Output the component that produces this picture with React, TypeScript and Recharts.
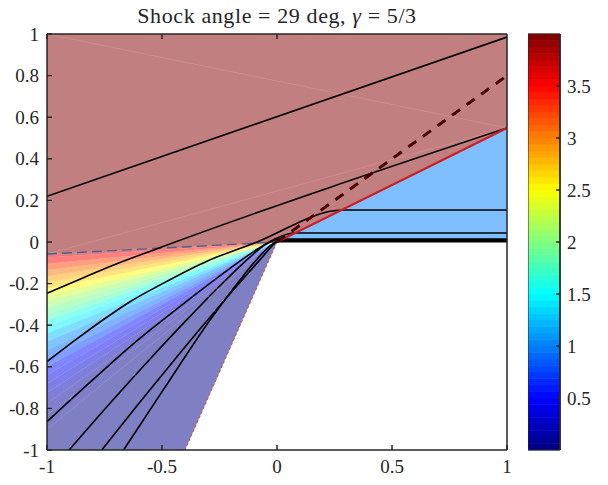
import React from "react";
import { ComposedChart, Area, Bar, Line, XAxis, YAxis, ReferenceArea } from "recharts";

const xTicks = [-1, -0.5, 0, 0.5, 1];
const yTicks = [-1, -0.8, -0.6, -0.4, -0.2, 0, 0.2, 0.4, 0.6, 0.8, 1];
const cbTicks = [0.5, 1, 1.5, 2, 2.5, 3, 3.5];

// rays of the expansion fan, given by where they cross x = -1
const fanEdgeY = [
  -0.058, -0.075, -0.105, -0.135, -0.165, -0.195, -0.225, -0.255, -0.285,
  -0.315, -0.345, -0.375, -0.405, -0.44, -0.48, -0.52, -0.56, -0.6, -0.64,
  -0.68, -0.725, -0.775, -0.83, -0.9, -2.5,
];
// colour level of each wedge between two neighbouring rays
const fanLevel = [
  3.75, 3.5, 3.25, 3.05, 2.85, 2.7, 2.5, 2.3, 2.1, 1.95, 1.8, 1.6, 1.45, 1.25,
  1.05, 0.9, 0.75, 0.55, 0.45, 0.35, 0.22, 0.12, 0.06, 0.03,
];

const upperLevel = 3.98;
const postShockLevel = 1.0;
const shockEndY = 0.548;
const fanHeadY = -0.058;

// streamlines
const stream1 = [[-1, 0.22], [1, 0.985]];
const stream2 = [[-1, -0.247], [-0.857, -0.179], [-0.683, -0.099], [-0.516, -0.03], [1, 0.548]];
const stream3 = [
  [-1, -0.575], [-0.857, -0.455], [-0.726, -0.351], [-0.639, -0.287], [-0.509, -0.207],
  [-0.3, -0.09], [-0.1, -0.006], [0.287, 0.154], [1, 0.154],
];
const stream4 = [
  [-1, -0.864], [-0.857, -0.718], [-0.726, -0.588], [-0.639, -0.503], [-0.5, -0.378],
  [-0.35, -0.248], [-0.2, -0.123], [-0.1, -0.045], [-0.04, -0.003], [0.078, 0.043], [1, 0.043],
];
const stream5 = [
  [-0.904, -1], [-0.726, -0.775], [-0.55, -0.56], [-0.4, -0.383], [-0.25, -0.213],
  [-0.12, -0.075], [-0.05, -0.012], [0.01, 0.014], [1, 0.014],
];
const stream6 = [
  [-0.762, -1], [-0.6, -0.775], [-0.45, -0.572], [-0.3, -0.373], [-0.15, -0.18],
  [-0.06, -0.068], [-0.015, -0.012], [0.01, 0.009], [1, 0.009],
];
const stream7 = [
  [-0.667, -1], [-0.494, -0.71], [-0.291, -0.375], [-0.146, -0.162], [-0.06, -0.05],
  [-0.015, -0.006], [0.005, 0.004], [1, 0.004],
];
const wall = [[0, 0], [1, 0]];

const fanHead = [[-1, fanHeadY], [0, 0]];
const fanTail = [[0, 0], [-0.4, -1]];
const shock = [[0, 0], [1, shockEndY]];
const shockGuide = [[0, 0], [1, 0.8]];
const seamA = [[-1, 1], [1, shockEndY]];
const seamB = [[-1, fanHeadY], [1, shockEndY]];

// colorbar: 64 colour steps between 0 and 4
const cbSteps = 64;
const cbMax = 4;

function jet(v: number) {
  const t = Math.min(1, Math.max(0, v / 4));
  const c = (d: number) =>
    Math.round(255 * Math.min(1, Math.max(0, 1.5 - Math.abs(4 * t - d))));
  return `rgb(${c(3)},${c(2)},${c(1)})`;
}

const pts = (a: number[][]) => a.map(([x, y]) => ({ x, y }));

const rows: any[] = [
  { x: -1, upper: [fanHeadY, 1] },
  { x: 0, upper: [0, 1], post: [0, 0] },
  { x: 1, upper: [shockEndY, 1], post: [0, shockEndY] },
];
fanLevel.forEach((_, i) => {
  rows[0][`w${i}`] = [fanEdgeY[i + 1], fanEdgeY[i]];
  rows[1][`w${i}`] = [0, 0];
});

const cbRow: any = { c: "cb" };
const cbKeys = Array.from({ length: cbSteps }, (_, i) => `s${i}`);
cbKeys.forEach((k) => (cbRow[k] = cbMax / cbSteps));

const font = "'Liberation Serif', 'Times New Roman', serif";
const ink = "#262626";
const fs = 19;

const XTick = ({ x, y, payload }: any) => (
  <text x={x} y={y} dy="0.71em" textAnchor="middle" fontFamily={font} fontSize={fs} fill={ink}>
    {String(payload.value)}
  </text>
);
const YTick = ({ x, y, payload }: any) => (
  <text x={x} y={y} dy="0.35em" textAnchor="end" fontFamily={font} fontSize={fs} fill={ink}>
    {String(payload.value)}
  </text>
);
const CbTick = ({ x, y, payload }: any) => (
  <text x={x} y={y} dy="0.35em" textAnchor="start" fontFamily={font} fontSize={fs} fill={ink}>
    {String(payload.value)}
  </text>
);
const noTick = () => <g />;

// the four sides of the axes box with ticks pointing inwards
function boxAxes(labels: boolean) {
  return [
    <XAxis
      key="xb"
      dataKey="x"
      type="number"
      domain={[-1, 1]}
      ticks={xTicks}
      allowDataOverflow
      height={35}
      tickSize={-5}
      tickMargin={15}
      tick={labels ? XTick : noTick}
      stroke={ink}
    />,
    <XAxis key="xt" xAxisId="top" orientation="top" type="number" domain={[-1, 1]} ticks={xTicks} height={34} tickSize={-5} tick={noTick} stroke={ink} />,
    <YAxis
      key="yl"
      type="number"
      domain={[-1, 1]}
      ticks={yTicks}
      allowDataOverflow
      width={47}
      tickSize={-5}
      tickMargin={13}
      tick={labels ? YTick : noTick}
      stroke={ink}
    />,
    <YAxis key="yr" yAxisId="right" orientation="right" type="number" domain={[-1, 1]} ticks={yTicks} width={101} tickSize={-5} tick={noTick} stroke={ink} />,
  ];
}

export default function App() {
  const line = (data: number[][], stroke: string, w: number, extra: any = {}, key?: string) => (
    <Line
      key={key}
      data={pts(data)}
      dataKey="y"
      type="linear"
      stroke={stroke}
      strokeWidth={w}
      dot={false}
      activeDot={false}
      isAnimationActive={false}
      {...extra}
    />
  );

  return (
    <div style={{ position: "absolute", left: 0, top: 0, width: 608, height: 485, background: "#fff" }}>
      <div style={{ position: "absolute", left: 0, top: 0 }}>
        <ComposedChart width={608} height={485} data={rows} margin={{ top: 0, right: 0, bottom: 0, left: 0 }}>
          {boxAxes(false)}

          <Area dataKey="upper" type="linear" stroke="none" fill={jet(upperLevel)} fillOpacity={0.5} dot={false} activeDot={false} isAnimationActive={false} />
          {fanLevel.map((lv, i) => (
            <Area
              key={`w${i}`}
              dataKey={`w${i}`}
              type="linear"
              stroke="none"
              fill={jet(lv)}
              fillOpacity={0.5}
              dot={false}
              activeDot={false}
              isAnimationActive={false}
            />
          ))}
          <Area dataKey="post" type="linear" stroke="none" fill={jet(postShockLevel)} fillOpacity={0.5} dot={false} activeDot={false} isAnimationActive={false} />

          {line(seamA, "#cf9794", 0.6, {}, "sa")}
          {line(seamB, "#cf9794", 0.6, {}, "sb")}
          {line(fanHead, "#52608f", 1.4, { strokeDasharray: "10 5" }, "fh")}
          {line(fanTail, "#d4522e", 1, { strokeDasharray: "3 2" }, "ft")}
          {line(wall, "#000", 1.2, {}, "wall")}
          {line(stream1, "#000", 1.6, {}, "s1")}
          {line(stream2, "#000", 1.6, { type: "monotoneX" }, "s2")}
          {line(stream3, "#000", 1.6, { type: "monotoneX" }, "s3")}
          {line(stream4, "#000", 1.6, { type: "monotoneX" }, "s4")}
          {line(stream5, "#000", 1.6, { type: "monotoneX" }, "s5")}
          {line(stream6, "#000", 1.6, { type: "monotoneX" }, "s6")}
          {line(stream7, "#000", 1.6, { type: "monotoneX" }, "s7")}
          {line(shock, "#cc1f24", 2, {}, "sh")}
          {line(shockGuide, "#4a0000", 3, { strokeDasharray: "10 8" }, "sg")}
        </ComposedChart>
      </div>

      {/* axes box, ticks and labels drawn on top of the filled regions */}
      <div style={{ position: "absolute", left: 0, top: 0, pointerEvents: "none" }}>
        <ComposedChart width={608} height={485} data={rows} margin={{ top: 0, right: 0, bottom: 0, left: 0 }}>
          {boxAxes(true)}
          {line([[-1, -1], [1, 1]], "none", 0, {}, "dummy")}
        </ComposedChart>
      </div>

      <div style={{ position: "absolute", left: 528, top: 0 }}>
        <ComposedChart
          width={80}
          height={485}
          data={[cbRow]}
          margin={{ top: 34, right: 0, bottom: 35, left: 0 }}
          barCategoryGap={0}
          barGap={0}
        >
          <XAxis dataKey="c" type="category" hide />
          <YAxis type="number" orientation="right" domain={[0, cbMax]} ticks={cbTicks} width={48} tickSize={-4} tickMargin={11} tick={noTick} stroke={ink} />
          {cbKeys.map((k, i) => {
            const col = jet(((i + 0.5) * cbMax) / cbSteps);
            return <Bar key={k} dataKey={k} stackId="cb" fill={col} stroke={col} strokeWidth={0.6} isAnimationActive={false} />;
          })}
        </ComposedChart>
      </div>

      <div style={{ position: "absolute", left: 528, top: 0, pointerEvents: "none" }}>
        <ComposedChart
          width={80}
          height={485}
          data={[cbRow]}
          margin={{ top: 34, right: 0, bottom: 35, left: 0 }}
          barCategoryGap={0}
          barGap={0}
        >
          <XAxis dataKey="c" type="category" hide />
          <YAxis type="number" orientation="right" domain={[0, cbMax]} ticks={cbTicks} width={48} tickSize={-4} tickMargin={11} tick={CbTick} stroke={ink} />
          <Bar dataKey="s0" fill="none" isAnimationActive={false} />
          <ReferenceArea x1="cb" x2="cb" y1={0} y2={cbMax} fill="none" stroke={ink} strokeWidth={1} />
        </ComposedChart>
      </div>

      <svg width={608} height={34} style={{ position: "absolute", left: 0, top: 0 }}>
        <text x={277} y={23} textAnchor="middle" fontFamily={font} fontSize={22} letterSpacing={0.6} fill={ink}>
          Shock angle = 29 deg, <tspan fontStyle="italic">γ</tspan> = 5/3
        </text>
      </svg>
    </div>
  );
}
